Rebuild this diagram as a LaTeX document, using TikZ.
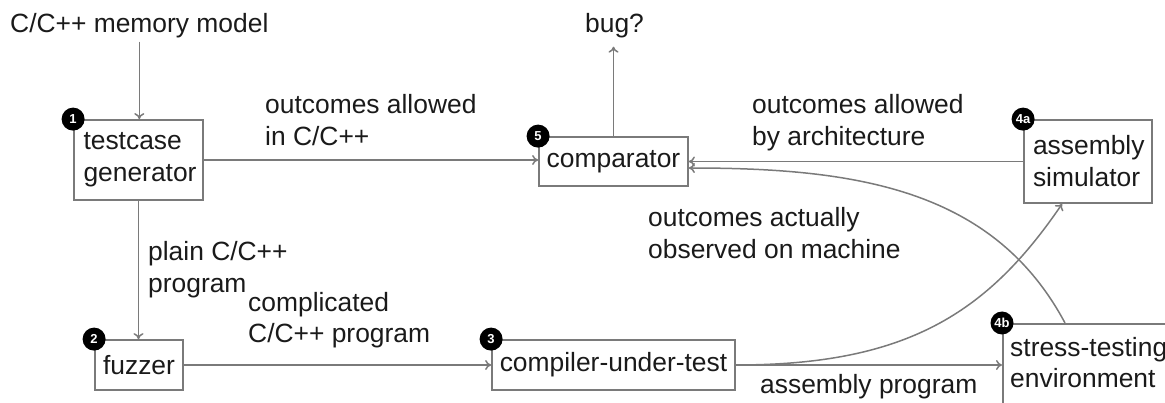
\documentclass[tikz,border=0pt]{standalone}
\usepackage{fontspec}
\setmainfont{Liberation Sans}
\usetikzlibrary{arrows.meta,calc}
\definecolor{ln}{HTML}{7A7A7A}
\definecolor{tx}{HTML}{1A1A1A}
\begin{document}
\begin{tikzpicture}[x=1pt,y=-1pt,
  font=\fontsize{26.4}{32}\selectfont,
  box/.style={draw=ln, line width=1.8pt, rectangle, inner sep=0pt, text=tx, align=left},
  txt/.style={text=tx, inner sep=0pt, align=left, anchor=base west},
  arr/.style={draw=ln, line width=1.5pt, -{To[length=6pt,width=10pt]}},
  badge/.style={circle, fill=black, text=white, inner sep=0pt, minimum size=23pt,
    font=\fontsize{13}{13}\selectfont\bfseries}]
\useasboundingbox (0,0) rectangle (1165,403);
\clip (0,0) rectangle (1165,403);

% boxes
\node[box, minimum width=129pt, minimum height=80pt, text width=110pt] (tg) at (138.5,160) {testcase\\generator};
\node[box, minimum width=149pt, minimum height=49pt] (cmp) at (613.5,161.5) {comparator};
\node[box, minimum width=128pt, minimum height=83pt, text width=110pt] (as) at (1088,161.5) {assembly\\simulator};
\node[box, minimum width=88pt, minimum height=50pt] (fz) at (139,365) {fuzzer};
\node[box, minimum width=243pt, minimum height=50pt] (cut) at (613.5,365) {compiler-under-test};
\node[box, anchor=north west, minimum width=260pt, minimum height=130pt] (stbox) at (1002,323) {};
\node[txt] (stt) at (1010,388) {stress-testing\\environment};

% badges
\node[badge] (b1) at (tg.north west) {1};
\node[badge] (b5) at (cmp.north west) {5};
\node[badge] (b4a) at (as.north west) {4a};
\node[badge] (b2) at (fz.north west) {2};
\node[badge] (b3) at (cut.north west) {3};
\node[badge] (b4b) at (stbox.north west) {4b};

% labels
\node[txt] (mm) at (10,33) {C/C++ memory model};
\node[txt] (bug) at (585,33) {bug?};
\node[txt] (l1) at (265,146) {outcomes allowed\\in C/C++};
\node[txt] (l2) at (752,146) {outcomes allowed\\by architecture};
\node[txt] (l3) at (648,259) {outcomes actually\\observed on machine};
\node[txt] (l4) at (148,293) {plain C/C++\\program};
\node[txt] (l5) at (248,343) {complicated\\C/C++ program};
\node[txt] (l6) at (760,393) {assembly program};

% connectors
\draw[arr] (mm.south) ++(0,3) coordinate (mms) -- (mms |- tg.north);
\draw[arr] (tg.east) -- (tg.east -| cmp.west);
\draw[arr, shorten >=8pt] (cmp.north) -- (cmp.north |- bug.south);
\draw[arr] (as.west) -- (as.west -| cmp.east);
\draw[arr] ($(stbox.north west)+(63,0)$) .. controls +(-72,-135) and +(165,0) .. ($(cmp.east)+(0,6.5)$);
\draw[arr] (tg.south) -- (tg.south |- fz.north);
\draw[arr] (fz.east) -- (fz.east -| cut.west);
\draw[arr] (cut.east) -- (cut.east -| stbox.west);
\draw[arr] (cut.east) .. controls +(170,0) and +(-75,110) .. ($(as.south west)+(39,0)$);
\end{tikzpicture}
\end{document}
